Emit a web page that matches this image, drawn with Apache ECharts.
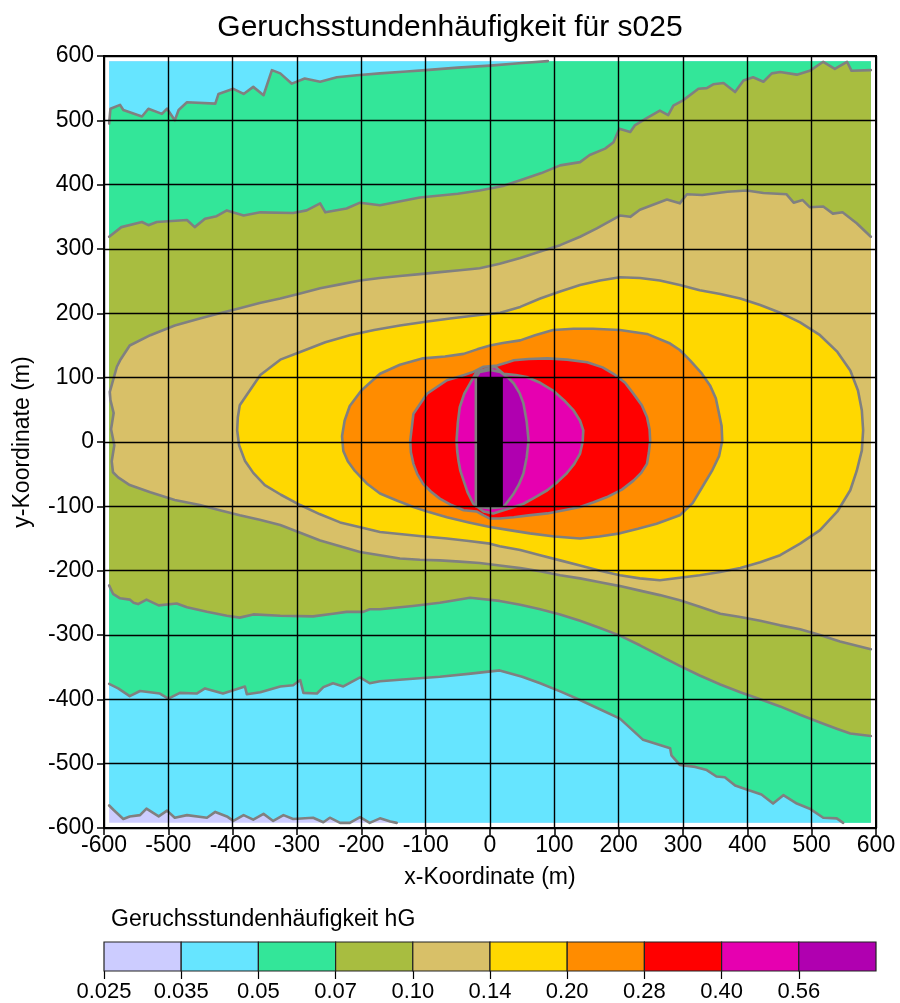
<!DOCTYPE html>
<html>
<head>
<meta charset="utf-8">
<script src="https://cdn.jsdelivr.net/npm/echarts@6/dist/echarts.min.js"></script>
<style>
  html, body { margin: 0; padding: 0; background: #fff; }
  #chart { width: 900px; height: 1003px; }
</style>
</head>
<body>
<div id="chart"></div>
<script>
// ---- odour-hour frequency levels (class lower bounds) ----
const levelLabels = ['0.025', '0.035', '0.05', '0.07', '0.10', '0.14', '0.20', '0.28', '0.40', '0.56'];

// computational domain (m)
const domain = [-592, 592];

// contour between 0.025 and 0.035 (bottom left corner), west -> east
const edge035 = [[-592,-565],[-585,-572],[-570,-586],[-560,-582],[-544,-580],[-534,-570],[-515,-582],[-502,-573],[-490,-584],[-471,-580],[-440,-584],[-427,-575],[-409,-582],[-399,-589],[-383,-580],[-368,-587],[-352,-578],[-337,-589],[-321,-580],[-306,-586],[-275,-584],[-259,-591],[-249,-584],[-233,-592],[-218,-592],[-202,-583],[-187,-592],[-171,-585],[-155,-590],[-145,-592]];

// 0.05 contour, northern branch, west -> east
const top05 = [[-592,495],[-590,518],[-575,524],[-570,516],[-541,506],[-531,518],[-510,510],[-502,518],[-490,500],[-484,516],[-471,528],[-427,526],[-422,541],[-399,549],[-383,541],[-368,552],[-352,539],[-339,578],[-326,573],[-308,557],[-288,565],[-264,560],[-238,567],[-207,570],[-171,573],[-130,576],[-100,578],[-50,582],[0,585],[50,589],[90,592]];

// 0.05 contour, southern branch, west -> east
const bot05 = [[-592,-376],[-578,-383],[-560,-395],[-544,-387],[-513,-391],[-500,-399],[-482,-390],[-456,-391],[-443,-383],[-415,-391],[-399,-386],[-381,-380],[-378,-392],[-357,-389],[-326,-380],[-306,-378],[-295,-370],[-290,-390],[-269,-391],[-259,-381],[-244,-375],[-228,-380],[-202,-366],[-187,-375],[-171,-372],[-120,-368],[-78,-365],[-30,-360],[15,-355],[50,-365],[78,-375],[110,-388],[140,-401],[170,-415],[202,-430],[238,-463],[264,-471],[280,-476],[282,-487],[295,-502],[319,-505],[337,-510],[352,-520],[365,-521],[381,-534],[399,-540],[422,-548],[440,-562],[456,-549],[477,-562],[497,-570],[518,-584],[539,-585],[549,-592]];

// 0.07 contour, northern branch, west -> east
const top07 = [[-592,319],[-573,334],[-541,342],[-531,337],[-518,342],[-471,345],[-459,334],[-443,347],[-425,351],[-409,360],[-383,352],[-357,357],[-306,356],[-285,360],[-264,371],[-256,357],[-223,363],[-202,372],[-171,368],[-109,380],[-50,386],[-16,391],[20,398],[47,407],[80,418],[109,430],[140,435],[155,446],[179,456],[192,466],[201,487],[218,482],[225,492],[243,503],[264,515],[277,508],[285,523],[300,531],[324,549],[337,550],[347,556],[363,558],[381,544],[394,562],[409,567],[425,560],[438,573],[451,575],[477,571],[497,577],[518,591],[536,580],[555,591],[562,577],[592,578]];

// 0.07 contour, southern branch, west -> east
const bot07 = [[-592,-223],[-586,-236],[-575,-243],[-560,-245],[-554,-250],[-547,-252],[-534,-245],[-515,-254],[-487,-251],[-471,-257],[-440,-264],[-409,-270],[-389,-273],[-368,-268],[-326,-270],[-275,-271],[-244,-267],[-223,-264],[-197,-264],[-187,-260],[-171,-260],[-120,-255],[-78,-250],[-31,-242],[15,-247],[47,-253],[78,-260],[109,-268],[140,-278],[171,-289],[202,-301],[233,-316],[264,-332],[295,-348],[326,-363],[358,-377],[389,-389],[420,-400],[451,-411],[482,-424],[513,-436],[540,-446],[560,-453],[592,-457]];

// 0.10 contour: from the east edge (south), round the west side, back to the east edge (north)
const curve10 = [[592,-322],[544,-310],[513,-300],[482,-291],[451,-285],[420,-278],[389,-272],[358,-267],[326,-256],[295,-246],[264,-238],[233,-231],[202,-224],[171,-218],[140,-212],[109,-207],[78,-201],[47,-196],[15,-192],[-16,-188],[-47,-186],[-78,-184],[-109,-183],[-140,-181],[-171,-176],[-202,-171],[-233,-162],[-264,-153],[-295,-141],[-326,-129],[-358,-121],[-389,-114],[-420,-106],[-451,-98],[-490,-90],[-528,-78],[-560,-67],[-578,-55],[-586,-47],[-588,-30],[-584,-5],[-589,20],[-585,45],[-590,65],[-591,78],[-580,117],[-575,127],[-560,150],[-528,166],[-490,181],[-451,192],[-420,200],[-389,208],[-358,216],[-326,223],[-295,231],[-264,239],[-233,245],[-202,251],[-171,255],[-140,258],[-109,261],[-78,264],[-47,267],[-16,270],[15,277],[47,286],[78,296],[109,306],[140,319],[166,332],[202,352],[218,350],[233,361],[275,377],[295,371],[306,385],[330,384],[369,389],[399,391],[425,387],[461,385],[472,372],[486,376],[497,365],[518,366],[533,355],[548,357],[570,340],[592,319]];

// closed contours around the source
const ring14 = [[-389,57],[-357,104],[-326,128],[-295,140],[-256,155],[-218,166],[-180,174],[-140,181],[-100,187],[-62,192],[-20,197],[16,201],[47,210],[78,223],[109,234],[140,244],[171,251],[202,256],[233,255],[264,251],[295,244],[326,236],[358,230],[389,223],[420,213],[451,201],[482,186],[513,166],[540,140],[560,111],[572,80],[578,49],[580,18],[578,-13],[570,-45],[560,-75],[540,-108],[513,-137],[482,-158],[451,-176],[420,-187],[389,-196],[358,-202],[326,-207],[295,-211],[264,-215],[233,-212],[202,-207],[171,-200],[140,-192],[109,-184],[78,-176],[47,-168],[15,-162],[0,-158],[-33,-154],[-67,-150],[-110,-146],[-171,-140],[-200,-133],[-233,-125],[-265,-112],[-295,-98],[-325,-82],[-350,-67],[-368,-48],[-381,-29],[-390,-5],[-393,18],[-392,38]];

const ring20 = [[-228,-14],[-230,9],[-226,33],[-218,56],[-200,80],[-171,106],[-140,120],[-104,130],[-70,133],[-41,137],[-20,144],[0,150],[20,154],[47,158],[70,166],[98,174],[130,176],[160,176],[202,174],[244,168],[280,153],[295,143],[311,127],[328,108],[342,88],[351,68],[355,49],[360,25],[361,2],[356,-22],[345,-45],[330,-70],[315,-95],[295,-114],[259,-127],[230,-135],[202,-142],[170,-147],[140,-150],[100,-147],[62,-142],[30,-137],[0,-132],[-33,-125],[-67,-117],[-95,-109],[-119,-101],[-145,-91],[-171,-80],[-192,-64],[-210,-45],[-221,-30]];

const ring28 = [[-124,2],[-119,44],[-98,75],[-67,96],[-40,104],[-26,109],[-10,117],[11,119],[25,123],[37,127],[60,129],[89,130],[120,128],[151,124],[175,116],[192,106],[210,92],[223,75],[236,57],[244,39],[248,20],[249,2],[247,-16],[244,-34],[235,-48],[223,-60],[205,-74],[181,-86],[160,-94],[140,-101],[115,-106],[89,-111],[60,-114],[37,-117],[15,-119],[0,-119],[-10,-114],[-21,-108],[-41,-106],[-60,-98],[-78,-88],[-92,-77],[-104,-65],[-113,-50],[-119,-34],[-123,-16]];

const ring40 = [[-52,2],[-50,30],[-47,54],[-40,75],[-31,91],[-21,109],[-5,114],[8,117],[21,106],[40,104],[57,101],[78,92],[98,80],[115,65],[130,49],[140,33],[145,18],[144,0],[140,-18],[131,-34],[119,-49],[105,-62],[89,-75],[70,-86],[52,-96],[37,-101],[21,-106],[5,-111],[-10,-108],[-26,-96],[-35,-78],[-41,-60],[-46,-45],[-49,-29],[-51,-14]];

const ring56 = [[-22,-100],[-22,100],[-16,109],[0,112],[16,109],[28,100],[37,91],[46,76],[52,60],[57,32],[60,2],[57,-24],[52,-49],[45,-66],[37,-80],[28,-92],[21,-101],[0,-103],[-16,-101]];

// volume source footprint: [x0, y0, x1, y1]
const sourceBox = [-20, -100, 20, 100];

// ---- styling ----
const FONT = '"Liberation Sans", Arial, Helvetica, sans-serif';
const palette = ['#ccccff', '#66e5ff', '#33e699', '#a8bd40', '#d8c068', '#ffd800', '#ff8c00', '#ff0000', '#e600b0', '#b000b0'];
const isolineColor = '#808080';

// ---- filled class areas, painted from the lowest class upward ----
const lo = domain[0], hi = domain[1];
const fills = [
  [[lo, hi], [hi, hi], [hi, lo], [lo, lo]],
  [[lo, hi], [hi, hi], [hi, lo]].concat(edge035.slice().reverse()),
  top05.concat([[hi, hi], [hi, lo]], bot05.slice().reverse()),
  top07.concat(bot07.slice().reverse()),
  curve10,
  ring14, ring20, ring28, ring40, ring56
];
const isolines = [edge035, top05, bot05, top07, bot07, curve10,
  ring14.concat([ring14[0]]), ring20.concat([ring20[0]]), ring28.concat([ring28[0]]),
  ring40.concat([ring40[0]]), ring56.concat([ring56[0]])];

const chart = echarts.init(document.getElementById('chart'), null, { renderer: 'canvas' });

const mainAxisCommon = {
  type: 'value', min: -600, max: 600, interval: 100, z: 10,
  axisLine: { show: true, onZero: false, lineStyle: { color: '#000', width: 2 } },
  axisTick: { show: true, inside: false, length: 7, lineStyle: { color: '#000', width: 1.5 } },
  splitLine: { show: true, lineStyle: { color: '#000', width: 1.4 } },
  nameLocation: 'middle',
  nameTextStyle: { fontSize: 23, color: '#000', fontFamily: FONT }
};

chart.setOption({
  animation: false,
  backgroundColor: '#fff',
  title: [
    { text: 'Geruchsstundenhäufigkeit für s025', left: 'center', top: 8,
      textStyle: { fontSize: 30, fontWeight: 'normal', color: '#000', fontFamily: FONT } },
    { text: 'Geruchsstundenhäufigkeit hG', left: 106, top: 903,
      textStyle: { fontSize: 23, fontWeight: 'normal', color: '#000', fontFamily: FONT } }
  ],
  grid: [
    { left: 104, top: 56, width: 772, height: 772, show: true, borderColor: '#000', borderWidth: 2, backgroundColor: '#fff' },
    { left: 104, top: 942, width: 772, height: 30, show: false }
  ],
  xAxis: [
    Object.assign({}, mainAxisCommon, {
      gridIndex: 0, position: 'bottom', name: 'x-Koordinate (m)', nameGap: 38,
      axisLabel: { color: '#000', fontSize: 23, fontFamily: FONT, margin: 6 }
    }),
    {
      gridIndex: 1, type: 'value', min: 0, max: 10, interval: 1,
      axisLine: { show: false },
      axisTick: { show: true, length: 8, customValues: [0,1,2,3,4,5,6,7,8,9], lineStyle: { color: '#000', width: 1.2 } },
      axisLabel: { color: '#000', fontSize: 22, fontFamily: FONT, margin: 10,
        customValues: [0,1,2,3,4,5,6,7,8,9],
        formatter: v => levelLabels[Math.round(v)] || '' },
      splitLine: { show: false }
    }
  ],
  yAxis: [
    Object.assign({}, mainAxisCommon, {
      gridIndex: 0, position: 'left', name: 'y-Koordinate (m)', nameGap: 70,
      axisLabel: { color: '#000', fontSize: 23, fontFamily: FONT, margin: 10 }
    }),
    { gridIndex: 1, type: 'value', min: 0, max: 1, show: false }
  ],
  series: [
    {
      // class areas
      type: 'custom', xAxisIndex: 0, yAxisIndex: 0, silent: true, z: 2,
      data: fills.map((_, i) => [i]),
      renderItem: (params, api) => {
        const i = params.dataIndex;
        return {
          type: 'polygon', z2: i,
          shape: { points: fills[i].map(p => api.coord(p)) },
          style: { fill: palette[i], stroke: null }
        };
      }
    },
    {
      // isolines
      type: 'custom', xAxisIndex: 0, yAxisIndex: 0, silent: true, z: 3,
      data: isolines.map((_, i) => [i]),
      renderItem: (params, api) => ({
        type: 'polyline',
        shape: { points: isolines[params.dataIndex].map(p => api.coord(p)) },
        style: { fill: null, stroke: isolineColor, lineWidth: 2.6, lineJoin: 'round', lineCap: 'round' }
      })
    },
    {
      // source
      type: 'custom', xAxisIndex: 0, yAxisIndex: 0, silent: true, z: 4,
      data: [[0]],
      renderItem: (params, api) => {
        const a = api.coord([sourceBox[0], sourceBox[3]]);
        const b = api.coord([sourceBox[2], sourceBox[1]]);
        return { type: 'rect', shape: { x: a[0], y: a[1], width: b[0] - a[0], height: b[1] - a[1] },
                 style: { fill: '#000' } };
      }
    },
    {
      // colour legend boxes
      type: 'custom', xAxisIndex: 1, yAxisIndex: 1, silent: true, z: 2,
      data: levelLabels.map((_, i) => [i, i + 1]),
      renderItem: (params, api) => {
        const a = api.coord([api.value(0), 1]);
        const b = api.coord([api.value(1), 0]);
        return { type: 'rect', shape: { x: a[0], y: a[1], width: b[0] - a[0], height: b[1] - a[1] },
                 style: { fill: palette[params.dataIndex], stroke: '#222', lineWidth: 1.2 } };
      }
    }
  ]
});
</script>
</body>
</html>
